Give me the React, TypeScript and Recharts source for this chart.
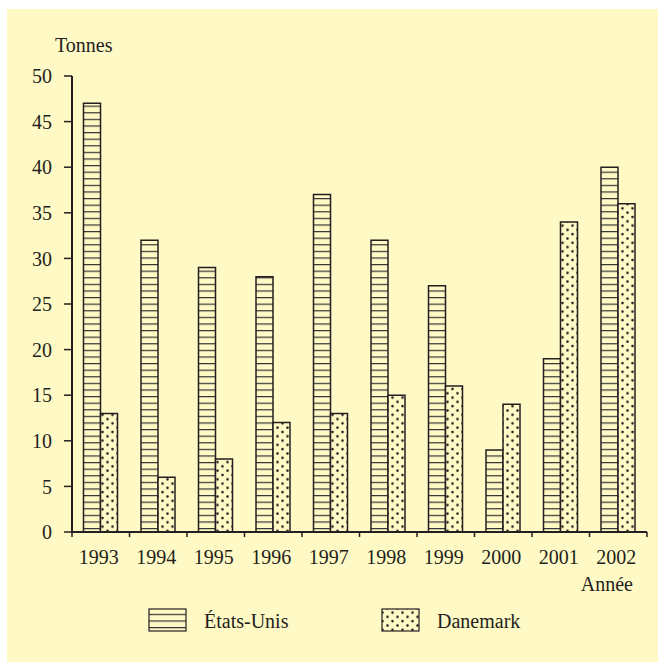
import React from "react";
import { Bar, BarChart, XAxis, YAxis } from "recharts";

const years = ["1993", "1994", "1995", "1996", "1997", "1998", "1999", "2000", "2001", "2002"];
const etatsUnis = [47, 32, 29, 28, 37, 32, 27, 9, 19, 40];
const danemark = [13, 6, 8, 12, 13, 15, 16, 14, 34, 36];
const yTicks = [0, 5, 10, 15, 20, 25, 30, 35, 40, 45, 50];

const data = years.map((year, i) => ({
  year,
  "États-Unis": etatsUnis[i],
  Danemark: danemark[i],
}));

const BG = "#fff9c5";
const INK = "#231f20";
const FONT = "Liberation Serif, Tinos, Times, serif";

const W = 658;
const H = 662;
const xAxisHeight = 30;
const margin = { top: 76, right: 11, bottom: 130 - xAxisHeight, left: 12 };
const yAxisWidth = 60;
const band = (W - margin.left - margin.right - yAxisWidth) / years.length;

const Patterns = ({ prefix }: { prefix: string }) => (
  <defs>
    <pattern id={`${prefix}-hlines`} patternUnits="userSpaceOnUse" width="10" height="6.6">
      <rect width="10" height="6.6" fill={BG} />
      <line x1="0" y1="0.6" x2="10" y2="0.6" stroke="#333" strokeWidth="1.2" />
    </pattern>
    <pattern id={`${prefix}-dots`} patternUnits="userSpaceOnUse" width="10" height="8.6">
      <rect width="10" height="8.6" fill={BG} />
      <circle cx="2.5" cy="2" r="1.3" fill={INK} />
      <circle cx="7.5" cy="6.3" r="1.3" fill={INK} />
    </pattern>
  </defs>
);

const XTick = (props: any) => {
  const { x, y, payload, index } = props;
  const last = index === years.length - 1;
  return (
    <g>
      <line x1={x - band / 2} y1={y} x2={x - band / 2} y2={y + 5} stroke={INK} strokeWidth={1.5} />
      {last && (
        <line x1={x + band / 2} y1={y} x2={x + band / 2} y2={y + 5} stroke={INK} strokeWidth={1.5} />
      )}
      <text x={x - 2} y={y + 32} textAnchor="middle" fill={INK} fontSize={20} fontFamily={FONT}>
        {payload.value}
      </text>
    </g>
  );
};

export default function App() {
  return (
    <div style={{ position: "absolute", left: 0, top: 0, width: W, height: H, fontFamily: FONT }}>
      <div
        style={{ position: "absolute", left: 7, top: 9, width: 651, height: 653, background: BG }}
      />
      <div style={{ position: "absolute", left: 0, top: 0 }}>
        <BarChart
          width={W}
          height={H}
          data={data}
          margin={margin}
          barCategoryGap="20%"
          barGap={0}
        >
          <Patterns prefix="c" />
          <XAxis
            dataKey="year"
            height={xAxisHeight}
            tickLine={false}
            tickSize={0}
            tickMargin={0}
            axisLine={{ stroke: INK, strokeWidth: 2 }}
            tick={<XTick />}
            interval={0}
          />
          <YAxis
            width={yAxisWidth}
            domain={[0, 50]}
            ticks={yTicks}
            interval={0}
            tickSize={8}
            tickMargin={12}
            axisLine={{ stroke: INK, strokeWidth: 2 }}
            tickLine={{ stroke: INK, strokeWidth: 1.5 }}
            tick={{ fill: INK, fontSize: 20, fontFamily: FONT }}
          />
          <Bar
            dataKey="États-Unis"
            fill="url(#c-hlines)"
            stroke={INK}
            strokeWidth={1.5}
            isAnimationActive={false}
          />
          <Bar
            dataKey="Danemark"
            fill="url(#c-dots)"
            stroke={INK}
            strokeWidth={1.5}
            isAnimationActive={false}
          />
        </BarChart>
      </div>
      <svg
        width={W}
        height={H}
        style={{ position: "absolute", left: 0, top: 0, pointerEvents: "none", fontFamily: FONT }}
      >
        <Patterns prefix="l" />
        <text x={55} y={52} fontSize={20} fill={INK}>
          Tonnes
        </text>
        <text x={633} y={591} fontSize={20} fill={INK} textAnchor="end">
          Année
        </text>
        <rect x={149} y={609} width={37} height={22} fill="url(#l-hlines)" stroke={INK} strokeWidth={1.2} />
        <text x={204} y={628} fontSize={20} fill={INK}>
          États-Unis
        </text>
        <rect x={382} y={609} width={37} height={22} fill="url(#l-dots)" stroke={INK} strokeWidth={1.2} />
        <text x={437} y={628} fontSize={20} fill={INK}>
          Danemark
        </text>
      </svg>
    </div>
  );
}
